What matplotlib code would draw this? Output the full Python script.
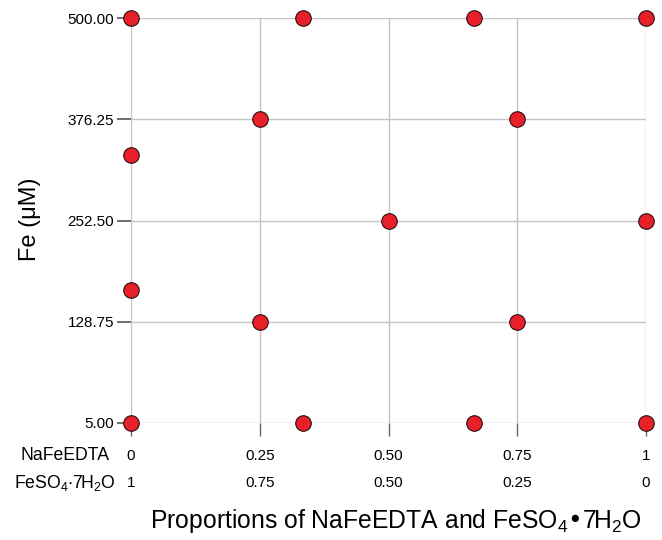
import matplotlib
matplotlib.use('Agg')
import matplotlib.pyplot as plt
import matplotlib.transforms as mtransforms

plt.rcParams['font.family'] = ['Liberation Sans', 'DejaVu Sans']
plt.rcParams['mathtext.default'] = 'regular'

# design points: proportion of NaFeEDTA vs total Fe (uM)
prop = [0, 1/3, 2/3, 1,
        0.25, 0.75,
        0,
        0.5, 1,
        0,
        0.25, 0.75,
        0, 1/3, 2/3, 1]
fe = [500, 500, 500, 500,
      376.25, 376.25,
      333,
      252.5, 252.5,
      167,
      128.75, 128.75,
      5, 5, 5, 5]

x_ticks = [0, 0.25, 0.5, 0.75, 1]
row1 = ['0', '0.25', '0.50', '0.75', '1']
row2 = ['1', '0.75', '0.50', '0.25', '0']
y_ticks = [5, 128.75, 252.5, 376.25, 500]
y_labels = ['5.00', '128.75', '252.50', '376.25', '500.00']

fig = plt.figure(figsize=(6.62, 5.4), dpi=100)
ax = fig.add_axes([131/662, 1 - 423/540, (646 - 131)/662, (423 - 18)/540])

ax.scatter(prop, fe, s=125, color='#e8202a', edgecolor='#2a1010',
           linewidth=0.8, zorder=3, clip_on=False)

ax.set_xlim(0, 1)
ax.set_ylim(5, 500)
ax.set_xticks(x_ticks)
ax.set_xticklabels([])
ax.set_yticks(y_ticks)
ax.set_yticklabels(y_labels, fontsize=11)
ax.grid(True, color='#c4c4c4', linewidth=1.0, zorder=0)
ax.set_axisbelow(True)
for s in ax.spines.values():
    s.set_visible(False)
ax.tick_params(axis='y', length=10, width=1.2, color='#555555', pad=2)
ax.tick_params(axis='x', length=9, width=1.0, color='#666666')

trans = mtransforms.blended_transform_factory(ax.transData, fig.transFigure)
for xv, a, b in zip(x_ticks, row1, row2):
    ax.text(xv, 1 - 456/540, a, transform=trans, ha='center', va='center', fontsize=11)
    ax.text(xv, 1 - 483/540, b, transform=trans, ha='center', va='center', fontsize=11)

fig.text(110/662, 1 - 456/540, 'NaFeEDTA', ha='right', va='center', fontsize=12.7)
fig.text(116/662, 1 - 483/540, 'FeSO$_4$$\\cdot$7H$_2$O', ha='right', va='center', fontsize=12.7)

fig.text(396/662, 1 - 521/540, 'Proportions of NaFeEDTA and FeSO$_4$•7H$_2$O',
         ha='center', va='center', fontsize=17.8)
fig.text(30/662, 1 - 219/540, 'Fe (μM)', rotation=90, ha='center', va='center', fontsize=17)

fig.savefig('out.png', dpi=100)
